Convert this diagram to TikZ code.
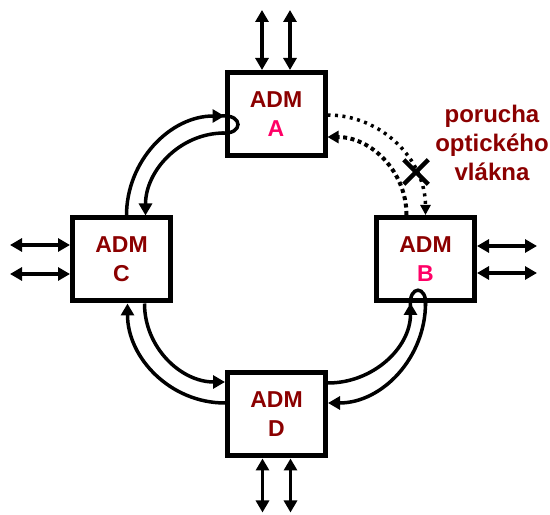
\documentclass[tikz,border=0pt]{standalone}
\usepackage{fontspec}
\setmainfont{Liberation Sans}
\usetikzlibrary{arrows.meta,shapes.misc}
\definecolor{admred}{HTML}{8B0000}
\definecolor{admpink}{HTML}{FF0066}

\begin{document}
\begin{tikzpicture}[
  x=1pt, y=1pt,
  font=\bfseries\fontsize{23}{29}\selectfont,
  adm/.style={draw, line width=5pt, fill=white, minimum width=98pt, minimum height=83pt,
    align=center, text=admred},
  io/.style={line width=3.5pt, {Triangle[length=12pt,width=13pt]}-{Triangle[length=12pt,width=13pt]}},
  ring/.style={line width=3.5pt, -{Triangle[length=12pt,width=13pt]}},
  xmark/.style={draw, solid, cross out, line width=4.5pt, minimum size=20pt, inner sep=0pt},
]
\useasboundingbox (0,0) rectangle (550,515);

% multiplexers of the ring
\node[adm] (A) at (276,401) {ADM\\\textcolor{admpink}{A}};
\node[adm] (B) at (425.5,256) {ADM\\\textcolor{admpink}{B}};
\node[adm] (C) at (121.5,255.5) {ADM\\C};
\node[adm] (D) at (276.5,100.5) {ADM\\D};

\node[text=admred, align=center, font=\bfseries\fontsize{24}{29}\selectfont] (poruch) at (492,372)
  {porucha\\optického\\vlákna};

% tributaries
\foreach \s in {-14,14} {
  \draw[io] ([xshift=\s pt]A.north) -- ++(0,60);
  \draw[io] ([xshift=\s pt]D.south) -- ++(0,-54);
}
\foreach \s in {13,-14} \draw[io] ([yshift=\s pt]B.east) -- ++(60,0);
\foreach \s in {14.5,-14.5} \draw[io] ([yshift=\s pt]C.west) -- ++(-60,0);

% working fibres
\draw[ring] ([xshift=5pt]C.north) to[out=90,in=180] ([yshift=-2pt]A.west);
\draw[ring] ([yshift=-19pt]A.west) to[out=180,in=90] ([xshift=24pt]C.north);
\draw[ring] ([yshift=11.5pt]D.west) to[out=180,in=-90] ([xshift=6pt]C.south);
\draw[ring] ([xshift=23pt]C.south) to[out=-90,in=180] ([yshift=32.5pt]D.west);
\draw[ring] ([yshift=31.5pt]D.east) to[out=0,in=-90] ([xshift=-15pt]B.south);
\draw[ring] (B.south) to[out=-90,in=0] ([yshift=11.5pt]D.east);

% loopback in A and B
\draw[line width=3.5pt] ([xshift=-3pt,yshift=-2pt]A.west)
  .. controls +(22,2) and +(22,-2) .. ([xshift=-3pt,yshift=-19pt]A.west);
\draw[line width=3.5pt] ([xshift=-15pt,yshift=-3pt]B.south)
  .. controls +(-2,21) and +(2,21) .. ([yshift=-3pt]B.south);

% broken span
\draw[line width=3.5pt, dash pattern=on 3pt off 4.5pt, -{Triangle[length=10pt,width=10pt]}]
  ([yshift=-1pt]A.east) to[out=0,in=90] node[pos=0.72, xmark] (cut) {} (B.north);
\draw[line width=4pt, dash pattern=on 4pt off 3.5pt, -{Triangle[length=11pt,width=12pt]}]
  ([xshift=-19pt]B.north) to[out=90,in=0] ([yshift=-23pt]A.east);
\end{tikzpicture}
\end{document}
